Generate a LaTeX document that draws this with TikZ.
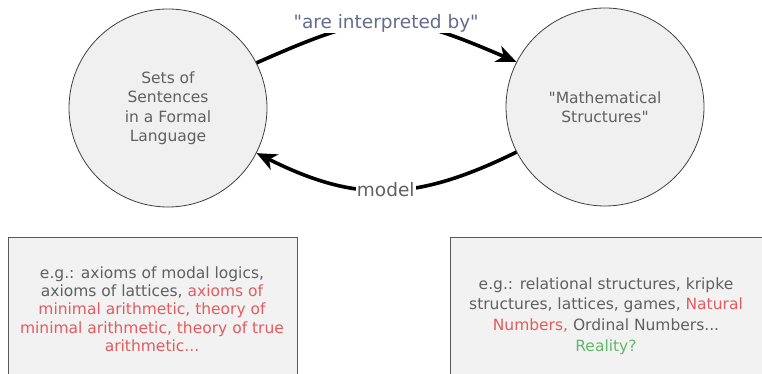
\documentclass[tikz,border=0pt]{standalone}
\usepackage{fontspec}
\setmainfont{DejaVu Sans}[Ligatures=TeXOff]
\usetikzlibrary{arrows.meta,positioning}
\definecolor{circfill}{HTML}{F0F0F0}
\definecolor{boxfill}{HTML}{F2F2F2}
\definecolor{txtgray}{HTML}{606060}
\definecolor{txtred}{HTML}{E25C5F}
\definecolor{txtgreen}{HTML}{62B86A}
\definecolor{lblblue}{HTML}{646C8C}
\tikzset{
    realm/.style={
    circle,draw=black!75,line width=0.8pt,fill=circfill,minimum size=198pt,inner sep=0pt,align=center,text=txtgray,font=\fontsize{15.5}{19.5}\selectfont
    },
    examples/.style={
    align=center,text=txtgray,font=\fontsize{15.5}{18.3}\selectfont
    },
    relation/.style={
    line width=3.6pt,-{Stealth[length=20pt,width=17pt,inset=6pt]}
    },
    rlabel/.style={
    fill=white,inner sep=1pt,font=\fontsize{18.5}{22}\selectfont
    },
    exframe/.style={
    draw=black!65,line width=1pt
    },
}
\begin{document}
\begin{tikzpicture}[x=1pt,y=-1pt]
   \useasboundingbox (0,0) rectangle (762,374);
   \node[realm] (Sent) at (168,108) {Sets of\\Sentences\\in a Formal\\Language};
   \node[realm] (Struct) at (605,107) {"Mathematical\\Structures"};

   \fill[boxfill] (8,237) rectangle (297,374);
   \draw[exframe] (8,374) |- (297,237) -- (297,374);
   \fill[boxfill] (450,237) rectangle (762,374);
   \draw[exframe] (450,374) |- (762,237);

   \node[examples] (SentEx) at (152,309) {e.g.: axioms of modal logics,\\axioms of lattices, \textcolor{txtred}{axioms of}\\\textcolor{txtred}{minimal arithmetic, theory of}\\\textcolor{txtred}{minimal arithmetic, theory of true}\\\textcolor{txtred}{arithmetic...}};
   \node[examples,font=\fontsize{15.5}{20.7}\selectfont] (StructEx) at (606,316) {e.g.: relational structures, kripke\\structures, lattices, games, \textcolor{txtred}{Natural}\\\textcolor{txtred}{Numbers,} Ordinal Numbers...\\\textcolor{txtgreen}{Reality?}};

   \draw[relation] (Sent.27) .. controls (376,10) and (396,10) .. node[rlabel,text=lblblue] (interp) {"are interpreted by"} (Struct.153);
   \draw[relation] (Struct.207) .. controls (415,202) and (356,203) .. node[rlabel,text=txtgray] (model) {model} (Sent.333);
\end{tikzpicture}
\end{document}
